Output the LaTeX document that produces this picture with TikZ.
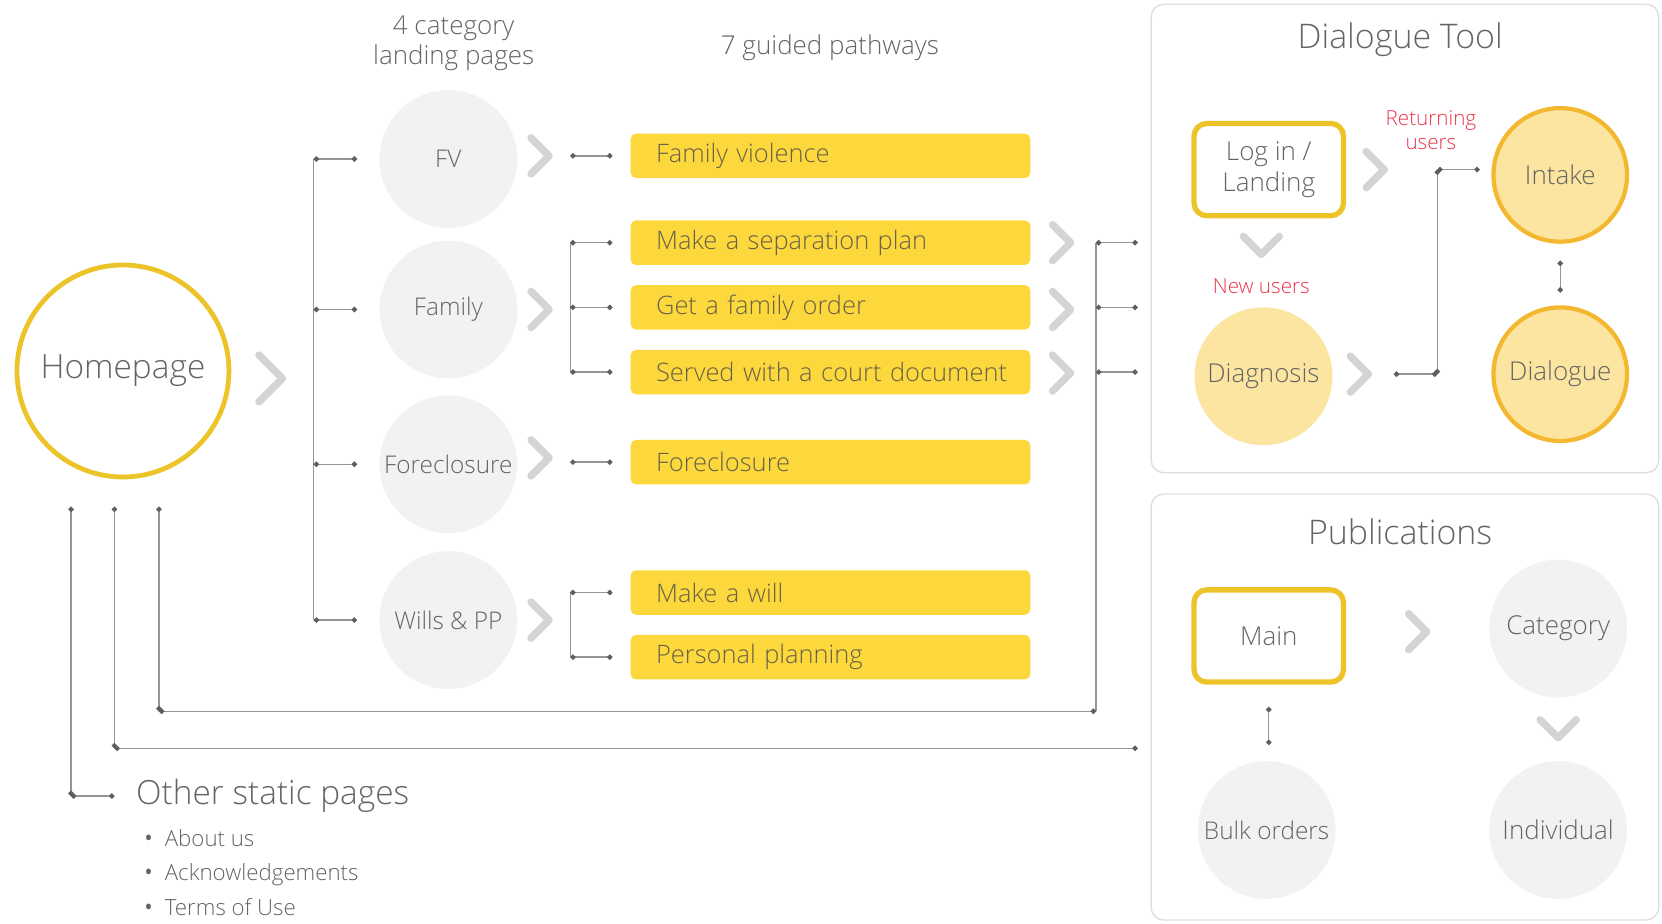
\documentclass[tikz,border=0pt]{standalone}
\usepackage{fontspec}
\IfFontExistsTF{Open Sans Light}{\setmainfont{Open Sans Light}}{\setmainfont{Open Sans}[Scale=0.96]}
\usetikzlibrary{arrows.meta,positioning}

\definecolor{gold}{RGB}{236,196,42}
\definecolor{boxyellow}{RGB}{253,216,60}
\definecolor{paleyellow}{RGB}{252,229,160}
\definecolor{amber}{RGB}{244,184,48}
\definecolor{softgray}{RGB}{242,242,242}
\definecolor{textgray}{RGB}{100,100,100}
\definecolor{boxtext}{RGB}{105,98,72}
\definecolor{wiregray}{RGB}{150,150,150}
\definecolor{dotgray}{RGB}{95,95,95}
\definecolor{chevgray}{RGB}{212,212,212}
\definecolor{panelgray}{RGB}{222,222,222}
\definecolor{notered}{RGB}{236,52,72}

\newcommand{\fsize}[2]{\fontsize{#1}{#2}\selectfont}
\newcommand{\dotitem}{\makebox[21pt][l]{\raisebox{-3pt}{\fsize{30}{30}•}}}

\begin{document}
\begin{tikzpicture}[x=1pt, y=-1pt, font=\fsize{24.5}{28}, text=textgray]
  \tikzset{
    catnode/.style={circle, fill=softgray, minimum size=130pt, inner sep=0pt, font=\fsize{23}{26}},
    toolnode/.style={circle, fill=paleyellow, draw=amber, line width=4pt, minimum size=126pt, inner sep=0pt, font=\fsize{24.5}{28}},
    pathbox/.style={rectangle, rounded corners=5pt, fill=boxyellow, text width=353pt, inner xsep=12pt, inner ysep=0pt, minimum height=42pt, align=left, text=boxtext, font=\fsize{24}{28}, execute at begin node={\hspace*{12pt}}},
    goldbox/.style={rectangle, rounded corners=12pt, draw=gold, line width=5pt, minimum width=141pt, minimum height=87pt, align=center, font=\fsize{24.5}{29}},
    panel/.style={draw=panelgray, line width=1.3pt, rounded corners=12pt},
    wire/.style={draw=wiregray, line width=1.3pt},
    dotwire/.style={wire, {Circle[length=5pt, color=dotgray]}-{Circle[length=5pt, color=dotgray]}},
    note/.style={text=notered, font=\fsize{19.5}{23}, align=center},
    chevline/.style={draw=chevgray, line width=7pt, line cap=round, line join=round},
    chevr/.pic={\draw[chevline] (-9,-17) -- (8,0) -- (-9,17);},
    chevd/.pic={\draw[chevline] (-17,-9) -- (0,8) -- (17,-9);},
  }
  \useasboundingbox (0,0) rectangle (1568,871);

  % home page and headings
  \node[circle, draw=gold, line width=4.5pt, minimum size=200pt, font=\fsize{31.5}{36}] (home) at (116,350) {Homepage};
  \pic[scale=1.3] at (256,357) {chevr};
  \node[align=center] (hcat) at (428,41) {4 category\\landing pages};
  \node (hpath) at (783,45) {7 guided pathways};

  % category landing pages
  \node[catnode] (fv) at (423,150) {FV};
  \node[catnode] (fam) at (423,292) {Family};
  \node[catnode] (fore) at (423,438) {Foreclosure};
  \node[catnode] (wills) at (423,585) {Wills \& PP};
  \foreach \y in {147,292,432,585}
    \pic at (510,\y) {chevr};

  % guided pathways
  \node[pathbox] (pfv) at (783.5,147) {Family violence};
  \node[pathbox] (psep) at (783.5,229) {Make a separation plan};
  \node[pathbox] (pord) at (783.5,290) {Get a family order};
  \node[pathbox] (pserv) at (783.5,351) {Served with a court document};
  \node[pathbox] (pfore) at (783.5,436) {Foreclosure};
  \node[pathbox] (pwill) at (783.5,559) {Make a will};
  \node[pathbox] (pplan) at (783.5,620) {Personal planning};
  \foreach \y in {229,292,352}
    \pic at (1002,\y) {chevr};

  % dialogue tool
  \node[panel, minimum width=479pt, minimum height=442pt] (dpanel) at (1325.5,225) {};
  \node[font=\fsize{32}{36}] (dtitle) at (1321,37) {Dialogue Tool};
  \node[goldbox] (login) at (1197,160) {Log in /\\Landing};
  \pic at (1298,160) {chevr};
  \pic at (1190,232) {chevd};
  \node[note] (newu) at (1190,270) {New users};
  \node[note] (retu) at (1350,123) {Returning\\users};
  \node[circle, fill=paleyellow, minimum size=130pt, inner sep=0pt, font=\fsize{24.5}{28}] (diag) at (1192,355) {Diagnosis};
  \pic at (1283,353) {chevr};
  \node[toolnode] (intake) at (1472,165) {Intake};
  \node[toolnode] (dial) at (1472,353) {Dialogue};

  % publications
  \node[panel, minimum width=479pt, minimum height=402pt] (ppanel) at (1325.5,667) {};
  \node[font=\fsize{32}{36}] (ptitle) at (1321,502) {Publications};
  \node[goldbox] (main) at (1197,600) {Main};
  \pic at (1338,596) {chevr};
  \node[catnode, font=\fsize{24.5}{28}] (pcat) at (1470,593) {Category};
  \pic at (1470,688) {chevd};
  \node[catnode, font=\fsize{24.5}{28}] (indiv) at (1470,783) {Individual};
  \node[catnode] (bulk) at (1195,783) {Bulk orders};

  % other static pages
  \node[anchor=west, font=\fsize{31.5}{36}] (other) at (125,751) {Other static pages};
  \node[anchor=west, font=\fsize{21}{24}] (about) at (131,792) {\dotitem About us};
  \node[anchor=west, font=\fsize{21}{24}] (ackn) at (131,825) {\dotitem Acknowledgements};
  \node[anchor=west, font=\fsize{21}{24}] (terms) at (131,857) {\dotitem Terms of Use};

  % connector points
  \coordinate (spine) at (296,0);
  \coordinate (fork) at (538,0);
  \coordinate (join) at (1034,0);
  \coordinate (ha) at (67,478);
  \coordinate (hb) at (108,478);
  \coordinate (hc) at (150,478);
  \coordinate (loop) at (1034,671);
  \coordinate (publ) at (108,706);
  \coordinate (dout) at (1315,353);
  \coordinate (dbend) at (1356,353);
  \coordinate (ibend) at (1356,160);

  % homepage to categories
  \draw[wire] (spine |- fv) -- (spine |- wills);
  \foreach \c in {fv,fam,fore,wills}
    \draw[dotwire, shorten >=21pt] (spine |- \c) -- (\c.west);

  % categories to pathways
  \draw[dotwire, shorten >=17pt] (fork |- pfv) -- (pfv.west);
  \draw[wire] (fork |- psep) -- (fork |- pserv);
  \foreach \p in {psep,pord,pserv}
    \draw[dotwire, shorten >=17pt] (fork |- \p) -- (\p.west);
  \draw[dotwire, shorten >=17pt] (fork |- pfore) -- (pfore.west);
  \draw[wire] (fork |- pwill) -- (fork |- pplan);
  \foreach \p in {pwill,pplan}
    \draw[dotwire, shorten >=17pt] (fork |- \p) -- (\p.west);

  % pathways to dialogue tool
  \draw[wire] (join |- psep) -- (loop);
  \foreach \p in {psep,pord,pserv}
    \draw[dotwire, shorten >=12pt] (join |- \p) -- (dpanel.west |- \p);

  % homepage links below
  \draw[dotwire] (hc) -- (hc |- loop);
  \draw[dotwire] (hc |- loop) -- (loop);
  \draw[dotwire] (hb) -- (publ);
  \draw[dotwire, shorten >=12pt] (publ) -- (ppanel.west |- publ);
  \draw[dotwire] (ha) -- (ha |- other);
  \draw[dotwire, shorten >=17pt] (ha |- other) -- (other.west);

  % dialogue tool flow
  \draw[dotwire] (dout) -- (dbend);
  \draw[dotwire] (dbend) -- (ibend);
  \draw[dotwire, shorten >=11pt] (ibend) -- (intake.west |- ibend);
  \draw[dotwire, shorten <=16pt, shorten >=12pt] (intake.south) -- (dial.north);

  % publications flow
  \draw[dotwire, shorten <=21pt, shorten >=15pt] (main.south) -- (main.south |- bulk.north);
\end{tikzpicture}
\end{document}
